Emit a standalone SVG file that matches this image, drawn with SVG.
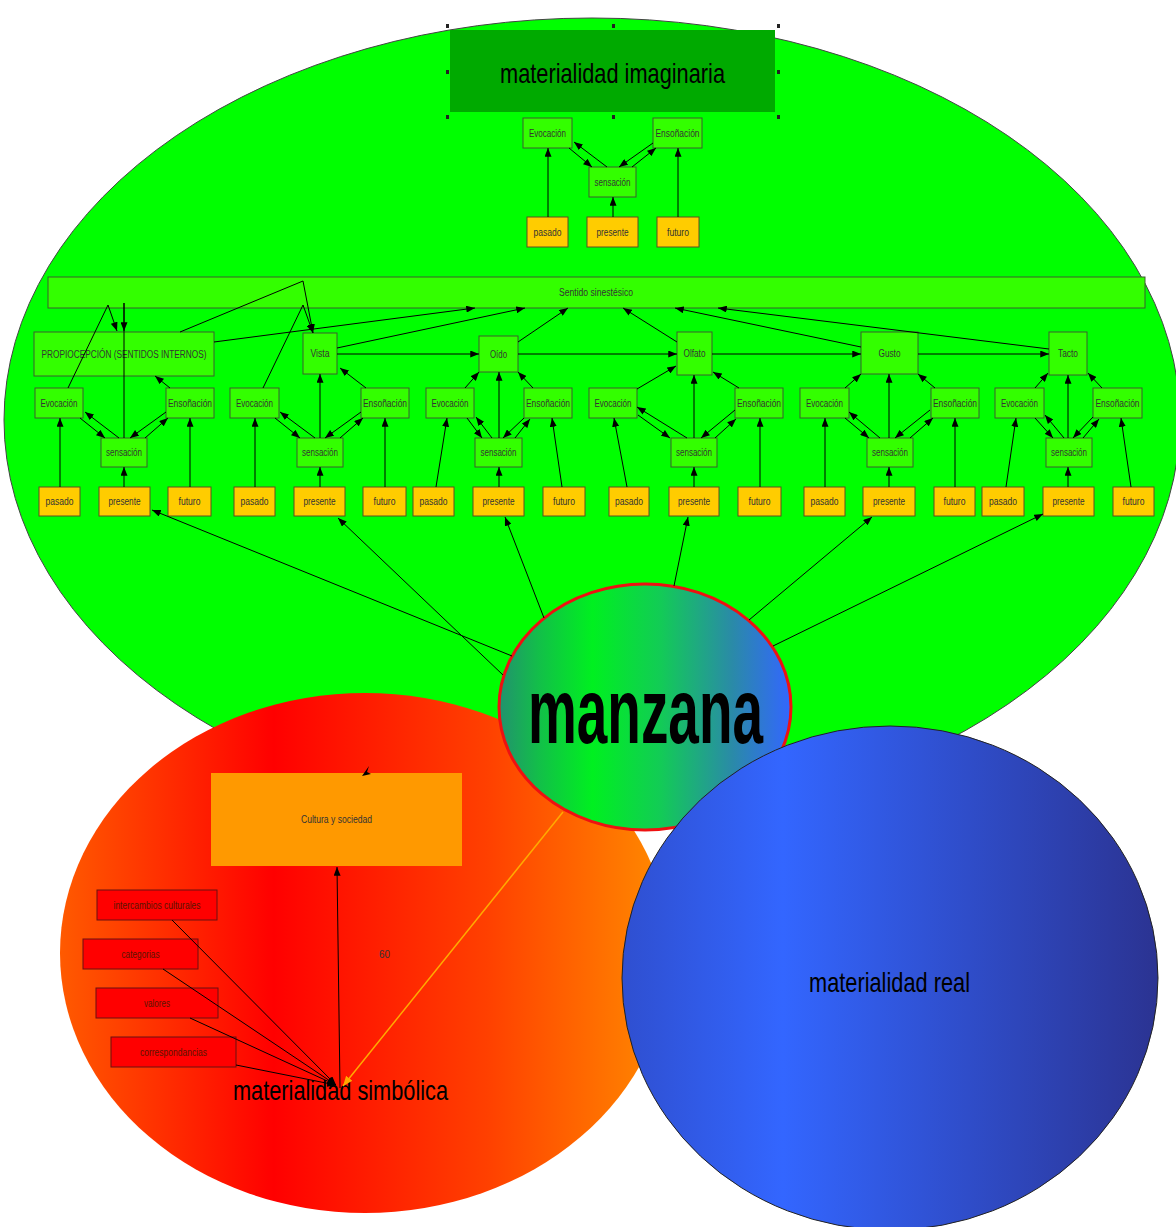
<svg xmlns="http://www.w3.org/2000/svg" width="1176" height="1227" viewBox="0 0 1176 1227">
  <defs>
    <marker id="ah" viewBox="0 0 10 8" refX="10" refY="4" markerWidth="9" markerHeight="7" markerUnits="userSpaceOnUse" orient="auto">
      <path d="M0,0 L10,4 L0,8 z" fill="#000"/>
    </marker>
    <marker id="ahOrange" viewBox="0 0 10 8" refX="10" refY="4" markerWidth="10" markerHeight="8" markerUnits="userSpaceOnUse" orient="auto">
      <path d="M0,0 L10,4 L0,8 z" fill="#ffaa00"/>
    </marker>
    <linearGradient id="gManzana" x1="0" y1="0" x2="1" y2="0">
      <stop offset="0" stop-color="#22926e"/>
      <stop offset="0.14" stop-color="#12c048"/>
      <stop offset="0.32" stop-color="#00f020"/>
      <stop offset="0.55" stop-color="#12cc55"/>
      <stop offset="0.8" stop-color="#2a8aa8"/>
      <stop offset="1" stop-color="#3366ff"/>
    </linearGradient>
    <linearGradient id="gSimb" x1="0" y1="0" x2="1" y2="0">
      <stop offset="0" stop-color="#ff5a00"/>
      <stop offset="0.35" stop-color="#ff0000"/>
      <stop offset="0.7" stop-color="#ff4000"/>
      <stop offset="1" stop-color="#ff8c00"/>
    </linearGradient>
    <linearGradient id="gReal" x1="0" y1="0" x2="1" y2="0">
      <stop offset="0" stop-color="#2f4fd0"/>
      <stop offset="0.3" stop-color="#3366ff"/>
      <stop offset="1" stop-color="#2b3392"/>
    </linearGradient>
    <style>
      .box { fill: #33ff00; stroke: #3d5e2e; stroke-width: 1; }
      .ybox { fill: #ffcc00; stroke: #5e5020; stroke-width: 1; }
      .rbox { fill: #ff0000; stroke: #6a1010; stroke-width: 1; }
      .t { font-family: "Liberation Sans", Arial, sans-serif; font-size: 10px; fill: #333; text-anchor: middle; }
      .tr { font-family: "Liberation Sans", Arial, sans-serif; font-size: 10px; fill: #5a1500; text-anchor: middle; }
      .big { font-family: "Liberation Sans", Arial, sans-serif; font-size: 28px; fill: #000; text-anchor: middle; }
      .handle { fill: #222; }
      .c line, .c path { stroke: #000; stroke-width: 1; fill: none; }
      .c .a { marker-end: url(#ah); }
    </style>
  </defs>

  <rect width="1176" height="1227" fill="#fff"/>

  <!-- imaginary materiality: large green field -->
  <g id="materialidad-imaginaria">
    <ellipse cx="592" cy="420" rx="588" ry="402" fill="#00ff00" stroke="#444" stroke-width="1"/>
    <rect x="450" y="30" width="325" height="82" fill="#00aa00"/>
    <text class="big" x="612.5" y="83" textLength="225" lengthAdjust="spacingAndGlyphs">materialidad imaginaria</text>
    <rect class="handle" x="446" y="24" width="3" height="4"/>
    <rect class="handle" x="612" y="24" width="3" height="4"/>
    <rect class="handle" x="777" y="24" width="3" height="4"/>
    <rect class="handle" x="446" y="70" width="3" height="4"/>
    <rect class="handle" x="777" y="70" width="3" height="4"/>
    <rect class="handle" x="446" y="115" width="3" height="4"/>
    <rect class="handle" x="612" y="115" width="3" height="4"/>
    <rect class="handle" x="777" y="115" width="3" height="4"/>
  </g>

  <!-- top cluster -->
  <g id="evocacion-0"><rect class="box" x="523" y="118" width="49" height="30"/><text class="t" x="547.5" y="136.5" textLength="37" lengthAdjust="spacingAndGlyphs">Evocación</text></g>
  <g id="ensonacion-0"><rect class="box" x="653" y="118" width="49" height="30"/><text class="t" x="677.5" y="136.5" textLength="44" lengthAdjust="spacingAndGlyphs">Ensoñación</text></g>
  <g id="sensacion-0"><rect class="box" x="589" y="167" width="47" height="30"/><text class="t" x="612.5" y="185.5" textLength="36" lengthAdjust="spacingAndGlyphs">sensación</text></g>
  <g id="pasado-0"><rect class="ybox" x="527" y="217" width="41" height="30"/><text class="t" x="547.5" y="235.5" textLength="28" lengthAdjust="spacingAndGlyphs">pasado</text></g>
  <g id="presente-0"><rect class="ybox" x="587" y="217" width="51" height="30"/><text class="t" x="612.5" y="235.5" textLength="32" lengthAdjust="spacingAndGlyphs">presente</text></g>
  <g id="futuro-0"><rect class="ybox" x="657" y="217" width="42" height="30"/><text class="t" x="678" y="235.5" textLength="22" lengthAdjust="spacingAndGlyphs">futuro</text></g>

  <!-- synesthetic sense bar -->
  <g id="sentido-sinestesico"><rect class="box" x="48" y="277" width="1097" height="31"/><text class="t" x="596" y="296" textLength="74" lengthAdjust="spacingAndGlyphs">Sentido sinestésico</text></g>

  <!-- senses -->
  <g id="propiocepcion"><rect class="box" x="34" y="332" width="180" height="44"/><text class="t" x="124" y="357.5" textLength="165" lengthAdjust="spacingAndGlyphs">PROPIOCEPCIÓN (SENTIDOS INTERNOS)</text></g>
  <g id="vista"><rect class="box" x="303" y="333" width="34" height="41"/><text class="t" x="320" y="357" textLength="19" lengthAdjust="spacingAndGlyphs">Vista</text></g>
  <g id="oido"><rect class="box" x="479" y="336" width="39" height="36"/><text class="t" x="498.5" y="357.5" textLength="17" lengthAdjust="spacingAndGlyphs">Oído</text></g>
  <g id="olfato"><rect class="box" x="677" y="332" width="35" height="43"/><text class="t" x="694.5" y="357" textLength="22" lengthAdjust="spacingAndGlyphs">Olfato</text></g>
  <g id="gusto"><rect class="box" x="861" y="332" width="57" height="42"/><text class="t" x="889.5" y="356.5" textLength="22" lengthAdjust="spacingAndGlyphs">Gusto</text></g>
  <g id="tacto"><rect class="box" x="1049" y="332" width="38" height="43"/><text class="t" x="1068" y="357" textLength="20" lengthAdjust="spacingAndGlyphs">Tacto</text></g>

  <!-- group 1: propiocepción -->
  <g id="evocacion-1"><rect class="box" x="35" y="388" width="48" height="30"/><text class="t" x="59" y="406.5" textLength="37" lengthAdjust="spacingAndGlyphs">Evocación</text></g>
  <g id="ensonacion-1"><rect class="box" x="166" y="388" width="48" height="30"/><text class="t" x="190" y="406.5" textLength="44" lengthAdjust="spacingAndGlyphs">Ensoñación</text></g>
  <g id="sensacion-1"><rect class="box" x="101" y="438" width="46" height="29"/><text class="t" x="124" y="456" textLength="36" lengthAdjust="spacingAndGlyphs">sensación</text></g>
  <g id="pasado-1"><rect class="ybox" x="39" y="487" width="41" height="29"/><text class="t" x="59.5" y="505" textLength="28" lengthAdjust="spacingAndGlyphs">pasado</text></g>
  <g id="presente-1"><rect class="ybox" x="99" y="487" width="51" height="29"/><text class="t" x="124.5" y="505" textLength="32" lengthAdjust="spacingAndGlyphs">presente</text></g>
  <g id="futuro-1"><rect class="ybox" x="168" y="487" width="43" height="29"/><text class="t" x="189.5" y="505" textLength="22" lengthAdjust="spacingAndGlyphs">futuro</text></g>

  <!-- group 2: vista -->
  <g id="evocacion-2"><rect class="box" x="230" y="388" width="49" height="30"/><text class="t" x="254.5" y="406.5" textLength="37" lengthAdjust="spacingAndGlyphs">Evocación</text></g>
  <g id="ensonacion-2"><rect class="box" x="361" y="388" width="48" height="30"/><text class="t" x="385" y="406.5" textLength="44" lengthAdjust="spacingAndGlyphs">Ensoñación</text></g>
  <g id="sensacion-2"><rect class="box" x="297" y="438" width="46" height="29"/><text class="t" x="320" y="456" textLength="36" lengthAdjust="spacingAndGlyphs">sensación</text></g>
  <g id="pasado-2"><rect class="ybox" x="234" y="487" width="41" height="29"/><text class="t" x="254.5" y="505" textLength="28" lengthAdjust="spacingAndGlyphs">pasado</text></g>
  <g id="presente-2"><rect class="ybox" x="294" y="487" width="51" height="29"/><text class="t" x="319.5" y="505" textLength="32" lengthAdjust="spacingAndGlyphs">presente</text></g>
  <g id="futuro-2"><rect class="ybox" x="363" y="487" width="43" height="29"/><text class="t" x="384.5" y="505" textLength="22" lengthAdjust="spacingAndGlyphs">futuro</text></g>

  <!-- group 3: oído -->
  <g id="evocacion-3"><rect class="box" x="426" y="388" width="48" height="30"/><text class="t" x="450" y="406.5" textLength="37" lengthAdjust="spacingAndGlyphs">Evocación</text></g>
  <g id="ensonacion-3"><rect class="box" x="524" y="388" width="48" height="30"/><text class="t" x="548" y="406.5" textLength="44" lengthAdjust="spacingAndGlyphs">Ensoñación</text></g>
  <g id="sensacion-3"><rect class="box" x="475" y="438" width="47" height="29"/><text class="t" x="498.5" y="456" textLength="36" lengthAdjust="spacingAndGlyphs">sensación</text></g>
  <g id="pasado-3"><rect class="ybox" x="413" y="487" width="41" height="29"/><text class="t" x="433.5" y="505" textLength="28" lengthAdjust="spacingAndGlyphs">pasado</text></g>
  <g id="presente-3"><rect class="ybox" x="473" y="487" width="51" height="29"/><text class="t" x="498.5" y="505" textLength="32" lengthAdjust="spacingAndGlyphs">presente</text></g>
  <g id="futuro-3"><rect class="ybox" x="543" y="487" width="42" height="29"/><text class="t" x="564" y="505" textLength="22" lengthAdjust="spacingAndGlyphs">futuro</text></g>

  <!-- group 4: olfato -->
  <g id="evocacion-4"><rect class="box" x="589" y="388" width="48" height="30"/><text class="t" x="613" y="406.5" textLength="37" lengthAdjust="spacingAndGlyphs">Evocación</text></g>
  <g id="ensonacion-4"><rect class="box" x="735" y="388" width="48" height="30"/><text class="t" x="759" y="406.5" textLength="44" lengthAdjust="spacingAndGlyphs">Ensoñación</text></g>
  <g id="sensacion-4"><rect class="box" x="671" y="438" width="46" height="29"/><text class="t" x="694" y="456" textLength="36" lengthAdjust="spacingAndGlyphs">sensación</text></g>
  <g id="pasado-4"><rect class="ybox" x="609" y="487" width="40" height="29"/><text class="t" x="629" y="505" textLength="28" lengthAdjust="spacingAndGlyphs">pasado</text></g>
  <g id="presente-4"><rect class="ybox" x="669" y="487" width="50" height="29"/><text class="t" x="694" y="505" textLength="32" lengthAdjust="spacingAndGlyphs">presente</text></g>
  <g id="futuro-4"><rect class="ybox" x="738" y="487" width="43" height="29"/><text class="t" x="759.5" y="505" textLength="22" lengthAdjust="spacingAndGlyphs">futuro</text></g>

  <!-- group 5: gusto -->
  <g id="evocacion-5"><rect class="box" x="800" y="388" width="49" height="30"/><text class="t" x="824.5" y="406.5" textLength="37" lengthAdjust="spacingAndGlyphs">Evocación</text></g>
  <g id="ensonacion-5"><rect class="box" x="931" y="388" width="48" height="30"/><text class="t" x="955" y="406.5" textLength="44" lengthAdjust="spacingAndGlyphs">Ensoñación</text></g>
  <g id="sensacion-5"><rect class="box" x="867" y="438" width="46" height="29"/><text class="t" x="890" y="456" textLength="36" lengthAdjust="spacingAndGlyphs">sensación</text></g>
  <g id="pasado-5"><rect class="ybox" x="804" y="487" width="41" height="29"/><text class="t" x="824.5" y="505" textLength="28" lengthAdjust="spacingAndGlyphs">pasado</text></g>
  <g id="presente-5"><rect class="ybox" x="863" y="487" width="52" height="29"/><text class="t" x="889" y="505" textLength="32" lengthAdjust="spacingAndGlyphs">presente</text></g>
  <g id="futuro-5"><rect class="ybox" x="934" y="487" width="41" height="29"/><text class="t" x="954.5" y="505" textLength="22" lengthAdjust="spacingAndGlyphs">futuro</text></g>

  <!-- group 6: tacto -->
  <g id="evocacion-6"><rect class="box" x="995" y="388" width="49" height="30"/><text class="t" x="1019.5" y="406.5" textLength="37" lengthAdjust="spacingAndGlyphs">Evocación</text></g>
  <g id="ensonacion-6"><rect class="box" x="1093" y="388" width="49" height="30"/><text class="t" x="1117.5" y="406.5" textLength="44" lengthAdjust="spacingAndGlyphs">Ensoñación</text></g>
  <g id="sensacion-6"><rect class="box" x="1046" y="438" width="46" height="29"/><text class="t" x="1069" y="456" textLength="36" lengthAdjust="spacingAndGlyphs">sensación</text></g>
  <g id="pasado-6"><rect class="ybox" x="982" y="487" width="42" height="29"/><text class="t" x="1003" y="505" textLength="28" lengthAdjust="spacingAndGlyphs">pasado</text></g>
  <g id="presente-6"><rect class="ybox" x="1043" y="487" width="51" height="29"/><text class="t" x="1068.5" y="505" textLength="32" lengthAdjust="spacingAndGlyphs">presente</text></g>
  <g id="futuro-6"><rect class="ybox" x="1113" y="487" width="41" height="29"/><text class="t" x="1133.5" y="505" textLength="22" lengthAdjust="spacingAndGlyphs">futuro</text></g>

  <!-- symbolic materiality: red field -->
  <g id="materialidad-simbolica">
    <ellipse cx="365" cy="953" rx="305" ry="260" fill="url(#gSimb)"/>
    <text class="big" x="340.5" y="1100" textLength="215" lengthAdjust="spacingAndGlyphs">materialidad simbólica</text>
  </g>
  <g id="cultura-sociedad"><rect x="211" y="773" width="251" height="93" fill="#ff9900"/><text class="t" x="336.5" y="823" textLength="71" lengthAdjust="spacingAndGlyphs">Cultura y sociedad</text></g>
  <g id="intercambios"><rect class="rbox" x="97" y="890" width="120" height="30"/><text class="tr" x="157" y="908.5" textLength="87" lengthAdjust="spacingAndGlyphs">intercambios culturales</text></g>
  <g id="categorias"><rect class="rbox" x="83" y="939" width="115" height="30"/><text class="tr" x="140.5" y="957.5" textLength="38" lengthAdjust="spacingAndGlyphs">categorias</text></g>
  <g id="valores"><rect class="rbox" x="96" y="988" width="122" height="30"/><text class="tr" x="157" y="1006.5" textLength="26" lengthAdjust="spacingAndGlyphs">valores</text></g>
  <g id="correspondancias"><rect class="rbox" x="111" y="1037" width="125" height="30"/><text class="tr" x="173.5" y="1055.5" textLength="67" lengthAdjust="spacingAndGlyphs">correspondancias</text></g>
  <g id="valor-60"><text class="t" x="384.5" y="957.5" textLength="11" lengthAdjust="spacingAndGlyphs">60</text></g>

  <!-- apple -->
  <g id="manzana">
    <ellipse cx="645" cy="707" rx="146" ry="123" fill="url(#gManzana)" stroke="#ee1111" stroke-width="3"/>
    <text x="645.5" y="743" font-family="'Liberation Sans', Arial, sans-serif" font-size="92" font-weight="bold" fill="#000" text-anchor="middle" textLength="235" lengthAdjust="spacingAndGlyphs">manzana</text>
  </g>

  <!-- real materiality: blue field -->
  <g id="materialidad-real">
    <ellipse cx="890" cy="978" rx="268" ry="252" fill="url(#gReal)" stroke="#222" stroke-width="1"/>
    <text class="big" x="889.5" y="992" textLength="161" lengthAdjust="spacingAndGlyphs">materialidad real</text>
  </g>

  <!-- connectors -->
  <g id="connectors" class="c">
    <!-- top cluster -->
    <line class="a" x1="548" y1="217" x2="548" y2="148"/>
    <line class="a" x1="678" y1="217" x2="678" y2="148"/>
    <line class="a" x1="613" y1="217" x2="613" y2="197"/>
    <line class="a" x1="569" y1="148" x2="592" y2="167"/>
    <line class="a" x1="607" y1="167" x2="574" y2="142"/>
    <line class="a" x1="653" y1="143" x2="619" y2="167"/>
    <line class="a" x1="632" y1="167" x2="656" y2="148"/>

    <!-- links into the synesthetic bar -->
    <path class="a" d="M180,332 L303,281 L313,333"/>
    <path class="a" d="M263,388 L303,305 L313,333"/>
    <path class="a" d="M68,388 L108,305 L117,331"/>
    <path d="M124,438 L124,303"/>
    <path class="a" d="M124,303 L124,331"/>
    <line class="a" x1="214" y1="342" x2="475" y2="308"/>
    <line class="a" x1="337" y1="348" x2="525" y2="308"/>
    <line class="a" x1="518" y1="342" x2="568" y2="308"/>
    <line class="a" x1="677" y1="342" x2="623" y2="308"/>
    <line class="a" x1="861" y1="347" x2="675" y2="308"/>
    <line class="a" x1="1049" y1="349" x2="718" y2="308"/>

    <!-- chain of senses -->
    <line class="a" x1="337" y1="354" x2="479" y2="354"/>
    <line class="a" x1="518" y1="354" x2="677" y2="354"/>
    <line class="a" x1="712" y1="354" x2="861" y2="354"/>
    <line class="a" x1="918" y1="354" x2="1049" y2="354"/>

    <!-- group 1 -->
    <line class="a" x1="60" y1="487" x2="60" y2="418"/>
    <line class="a" x1="124" y1="487" x2="124" y2="467"/>
    <line class="a" x1="190" y1="487" x2="190" y2="418"/>
    <line class="a" x1="80" y1="418" x2="105" y2="438"/>
    <line class="a" x1="119" y1="438" x2="85" y2="412"/>
    <line class="a" x1="166" y1="412" x2="130" y2="438"/>
    <line class="a" x1="145" y1="438" x2="168" y2="418"/>
    <line class="a" x1="170" y1="388" x2="155" y2="376"/>

    <!-- group 2 -->
    <line class="a" x1="255" y1="487" x2="255" y2="418"/>
    <line class="a" x1="320" y1="487" x2="320" y2="467"/>
    <line class="a" x1="385" y1="487" x2="385" y2="418"/>
    <line class="a" x1="275" y1="418" x2="300" y2="438"/>
    <line class="a" x1="315" y1="438" x2="280" y2="412"/>
    <line class="a" x1="361" y1="412" x2="325" y2="438"/>
    <line class="a" x1="340" y1="438" x2="363" y2="418"/>
    <line class="a" x1="320" y1="438" x2="320" y2="374"/>
    <line class="a" x1="366" y1="388" x2="340" y2="368"/>

    <!-- group 3 -->
    <line class="a" x1="436" y1="487" x2="447" y2="418"/>
    <line class="a" x1="562" y1="487" x2="552" y2="418"/>
    <line class="a" x1="499" y1="487" x2="499" y2="467"/>
    <line class="a" x1="467" y1="418" x2="482" y2="438"/>
    <line class="a" x1="492" y1="438" x2="476" y2="417"/>
    <line class="a" x1="524" y1="418" x2="503" y2="438"/>
    <line class="a" x1="515" y1="438" x2="530" y2="419"/>
    <line class="a" x1="499" y1="438" x2="499" y2="372"/>
    <line class="a" x1="465" y1="388" x2="479" y2="372"/>
    <line class="a" x1="533" y1="388" x2="518" y2="372"/>

    <!-- group 4 -->
    <line class="a" x1="627" y1="487" x2="614" y2="418"/>
    <line class="a" x1="760" y1="487" x2="760" y2="418"/>
    <line class="a" x1="694" y1="487" x2="694" y2="467"/>
    <line class="a" x1="638" y1="415" x2="670" y2="438"/>
    <line class="a" x1="687" y1="438" x2="637" y2="407"/>
    <line class="a" x1="735" y1="410" x2="701" y2="438"/>
    <line class="a" x1="715" y1="438" x2="736" y2="419"/>
    <line class="a" x1="694" y1="438" x2="694" y2="375"/>
    <line class="a" x1="637" y1="389" x2="676" y2="366"/>
    <line class="a" x1="739" y1="388" x2="713" y2="372"/>

    <!-- group 5 -->
    <line class="a" x1="825" y1="487" x2="825" y2="418"/>
    <line class="a" x1="955" y1="487" x2="955" y2="418"/>
    <line class="a" x1="889" y1="487" x2="889" y2="467"/>
    <line class="a" x1="845" y1="418" x2="869" y2="438"/>
    <line class="a" x1="880" y1="438" x2="849" y2="412"/>
    <line class="a" x1="930" y1="410" x2="895" y2="438"/>
    <line class="a" x1="910" y1="438" x2="933" y2="418"/>
    <line class="a" x1="889" y1="438" x2="889" y2="374"/>
    <line class="a" x1="845" y1="388" x2="861" y2="374"/>
    <line class="a" x1="935" y1="388" x2="918" y2="374"/>

    <!-- group 6 -->
    <line class="a" x1="1006" y1="487" x2="1016" y2="418"/>
    <line class="a" x1="1131" y1="487" x2="1121" y2="418"/>
    <line class="a" x1="1068" y1="487" x2="1068" y2="467"/>
    <line class="a" x1="1035" y1="418" x2="1053" y2="438"/>
    <line class="a" x1="1064" y1="438" x2="1045" y2="415"/>
    <line class="a" x1="1093" y1="417" x2="1073" y2="438"/>
    <line class="a" x1="1083" y1="438" x2="1099" y2="419"/>
    <line class="a" x1="1068" y1="438" x2="1068" y2="375"/>
    <line class="a" x1="1035" y1="388" x2="1048" y2="373"/>
    <line class="a" x1="1102" y1="388" x2="1088" y2="373"/>

    <!-- apple to each present -->
    <line class="a" x1="512" y1="656" x2="152" y2="510"/>
    <line class="a" x1="503" y1="675" x2="338" y2="518"/>
    <line class="a" x1="544" y1="618" x2="505" y2="517"/>
    <line class="a" x1="674" y1="586" x2="688" y2="517"/>
    <line class="a" x1="749" y1="620" x2="872" y2="517"/>
    <line class="a" x1="773" y1="646" x2="1043" y2="514"/>

    <!-- symbolic side -->
    <line x1="563" y1="812" x2="343" y2="1086" style="stroke:#ffaa00;stroke-width:1.5;marker-end:url(#ahOrange)"/>
    <line class="a" x1="340" y1="1088" x2="337" y2="867"/>
    <line class="a" x1="172" y1="920" x2="336" y2="1085"/>
    <line class="a" x1="163" y1="969" x2="336" y2="1085"/>
    <line class="a" x1="190" y1="1018" x2="336" y2="1085"/>
    <line class="a" x1="236" y1="1065" x2="336" y2="1085"/>
    <path d="M362,776 L369,766 L367,772 L371,774 z" style="fill:#000;stroke:none"/>
  </g>
</svg>
